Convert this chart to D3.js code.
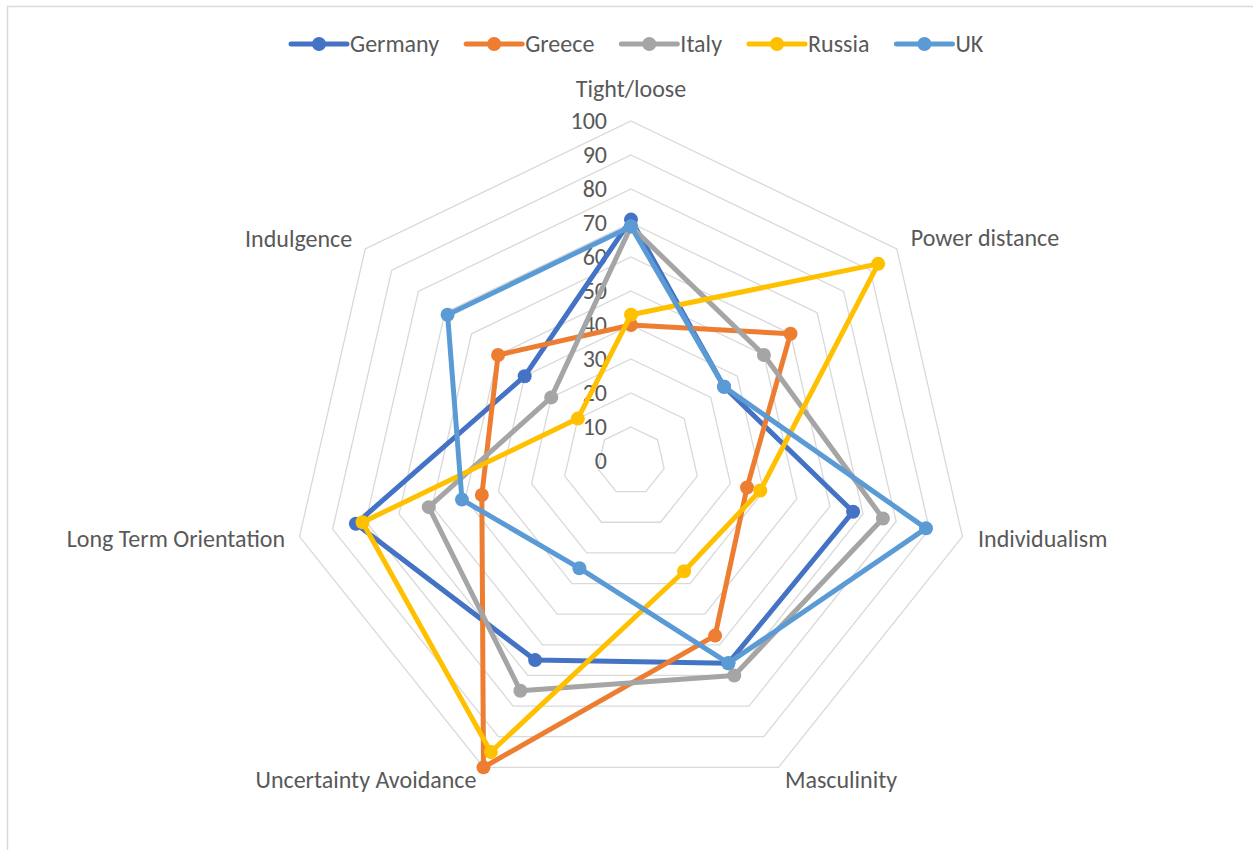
<html>
<head>
<script src="https://cdn.jsdelivr.net/npm/d3@7"></script>
<style>
    body { margin: 0; background: #fff; font-family: Carlito, Calibri, "Open Sans", sans-serif; }
    text { fill: #595959; }
</style>
</head>
<body>
<div id="chart"></div>
<script>
// data
const axes = ["Tight/loose", "Power distance", "Individualism", "Masculinity",
    "Uncertainty Avoidance", "Long Term Orientation", "Indulgence"];
const countries = ["Germany", "Greece", "Italy", "Russia", "UK"];
const germany = [71, 35, 67, 66, 65, 83, 40];
const greece  = [40, 60, 35, 57, 100, 45, 50];
const italy   = [69, 50, 76, 70, 75, 61, 30];
const russia  = [43, 93, 39, 36, 95, 81, 20];
const uk      = [69, 35, 89, 66, 35, 51, 69];
const ticks = [0, 10, 20, 30, 40, 50, 60, 70, 80, 90, 100];

const series = [germany, greece, italy, russia, uk];
const colors = ["#4472C4", "#ED7D31", "#A5A5A5", "#FFC000", "#5B9BD5"];

const width = 1253, height = 850;
const cx = 631, cy = 461, R = 340;
const fontSize = "24px";

const svg = d3.select("#chart").append("svg")
    .attr("width", width).attr("height", height);

// chart border
svg.append("rect")
    .attr("x", 7.5).attr("y", 6.5)
    .attr("width", width).attr("height", height)
    .attr("fill", "none").attr("stroke", "#d9d9d9").attr("stroke-width", 1.5);

const r = d3.scaleLinear().domain([0, 100]).range([0, R]);
const angle = i => -Math.PI / 2 + i * 2 * Math.PI / axes.length;
const pt = (v, i) => [cx + r(v) * Math.cos(angle(i)), cy + r(v) * Math.sin(angle(i))];

const g = svg.append("g");

// grid rings
ticks.forEach(t => {
    g.append("path")
        .attr("d", d3.line()(axes.map((a, i) => pt(t, i))) + "Z")
        .attr("fill", "none").attr("stroke", "#d9d9d9").attr("stroke-width", 1.3);
});

// tick labels
g.selectAll(".tick").data(ticks).enter().append("text")
    .attr("x", cx - 24)
    .attr("y", d => cy - r(d) + 8)
    .attr("text-anchor", "end")
    .style("font-size", fontSize)
    .text(d => d);

// axis labels, offsets from the outer ring corner
const labelOff = [[0, -24, "middle"], [14, -3, "start"], [15.5, 10, "start"], [62.5, 21, "middle"],
    [-117.5, 21, "middle"], [-14.5, 10, "end"], [-13, -2, "end"]];
axes.forEach((a, i) => {
    const p = pt(100, i);
    g.append("text")
        .attr("x", p[0] + labelOff[i][0]).attr("y", p[1] + labelOff[i][1])
        .attr("text-anchor", labelOff[i][2])
        .style("font-size", fontSize)
        .text(a);
});

// series
series.forEach((vals, s) => {
    const pts = vals.map((v, i) => pt(v, i));
    g.append("path")
        .attr("d", d3.line()(pts) + "Z")
        .attr("fill", "none")
        .attr("stroke", colors[s])
        .attr("stroke-width", 5)
        .attr("stroke-linejoin", "round");
    g.selectAll(".pt" + s).data(pts).enter().append("circle")
        .attr("cx", d => d[0]).attr("cy", d => d[1])
        .attr("r", 7)
        .attr("fill", colors[s]);
});

// legend: line + marker, then name, items separated by a fixed gap
const legend = svg.append("g");
let lx = 291;
countries.forEach((c, i) => {
    legend.append("line")
        .attr("x1", lx).attr("x2", lx + 56)
        .attr("y1", 44).attr("y2", 44)
        .attr("stroke", colors[i]).attr("stroke-width", 5)
        .attr("stroke-linecap", "round");
    legend.append("circle")
        .attr("cx", lx + 28).attr("cy", 44).attr("r", 7)
        .attr("fill", colors[i]);
    const t = legend.append("text")
        .attr("x", lx + 59).attr("y", 52)
        .style("font-size", fontSize)
        .text(c);
    lx += 59 + t.node().getComputedTextLength() + 27;
});
</script>
</body>
</html>
